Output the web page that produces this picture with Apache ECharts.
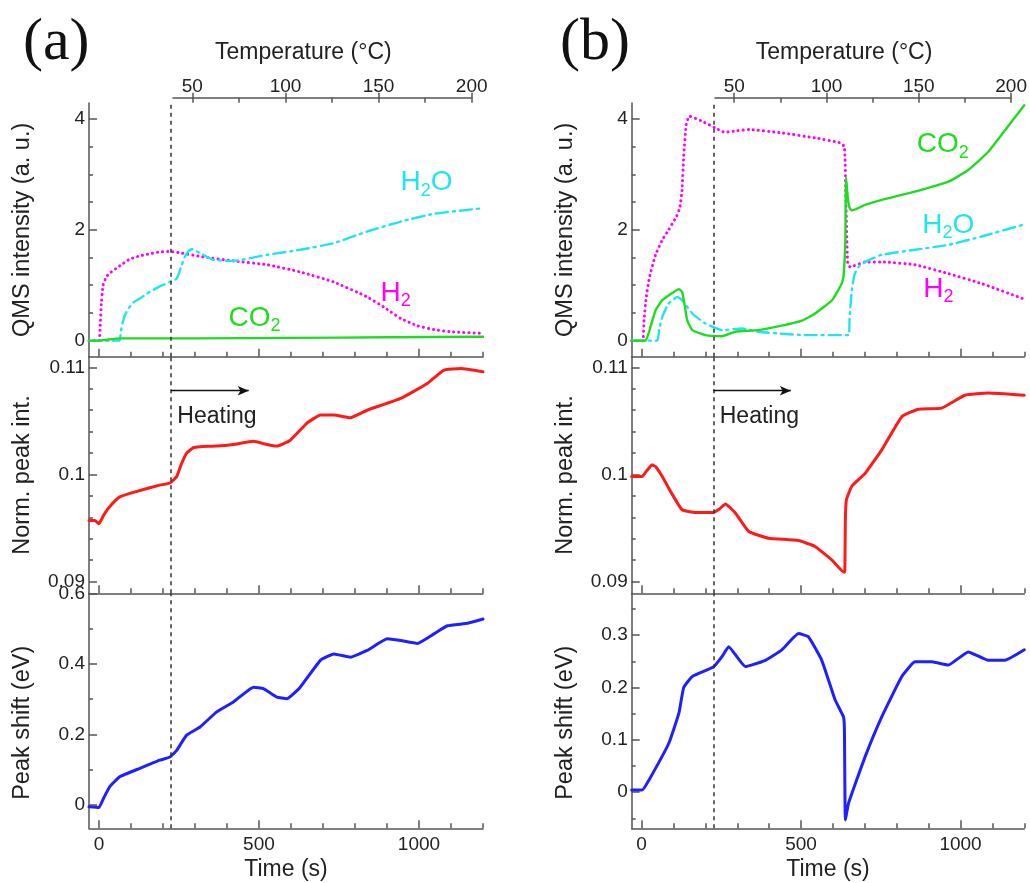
<!DOCTYPE html>
<html><head><meta charset="utf-8">
<script src="https://cdn.jsdelivr.net/npm/echarts@6/dist/echarts.min.js"></script>
<style>html,body{margin:0;padding:0;background:#fff}#c{width:1030px;height:883px}</style>
</head><body><div id="c"></div>
<script>
// ---------- tick / label values ----------
const TIME_TICKS = [0,100,200,300,400,500,600,700,800,900,1000,1100,1200];
const TIME_LABELS = [0,500,1000];
const TEMP_TICKS = [50,75,100,125,150,175,200];
const TEMP_LABELS = [50,100,150,200];
const QMS_TICKS = [0,0.5,1,1.5,2,2.5,3,3.5,4];
const QMS_LABELS = [0,2,4];
const NPI_TICKS = [0.09,0.092,0.094,0.096,0.098,0.1,0.102,0.104,0.106,0.108,0.11];
const NPI_LABELS = [0.09,0.1,0.11];
const PSA_TICKS = [0,0.1,0.2,0.3,0.4,0.5,0.6];
const PSA_LABELS = [0,0.2,0.4,0.6];
const PSB_TICKS = [-0.05,0,0.05,0.1,0.15,0.2,0.25,0.3,0.35];
const PSB_LABELS = [0,0.1,0.2,0.3];
const HEATING_START = 225;
const ARROW = [[225,0.10782],[468,0.10782]];

// ---------- panel (a) data [time s, value] ----------
const a_H2 = [[-31,0],[0,0],[4,0.25],[8,0.7],[13,1.0],[23,1.15],[34,1.22],[65,1.35],[96,1.47],[128,1.53],[160,1.57],[190,1.6],[222,1.61],[260,1.58],[316,1.52],[419,1.44],[525,1.37],[629,1.24],[733,1.06],[838,0.79],[889,0.61],[943,0.4],[995,0.27],[1046,0.2],[1100,0.16],[1200,0.13]];
const a_H2O = [[-31,0],[64,0],[68,0.15],[74,0.32],[82,0.47],[95,0.6],[110,0.7],[128,0.76],[150,0.85],[190,0.98],[222,1.06],[243,1.12],[256,1.32],[269,1.52],[283,1.63],[292,1.65],[316,1.58],[357,1.46],[420,1.44],[525,1.55],[629,1.64],[733,1.76],[838,1.97],[943,2.15],[1047,2.29],[1200,2.39]];
const a_CO2 = [[-31,0],[0,0],[30,0.02],[65,0.04],[300,0.04],[600,0.05],[900,0.06],[1200,0.07]];
const a_NPI = [[-31,0.0957],[-13,0.0957],[0,0.0954],[15,0.0962],[34,0.097],[65,0.0979],[128,0.0985],[190,0.099],[222,0.0992],[243,0.0998],[258,0.101],[274,0.102],[295,0.1025],[316,0.1026],[368,0.10265],[420,0.1028],[483,0.1031],[525,0.1028],[556,0.10265],[598,0.1032],[650,0.1048],[692,0.10555],[734,0.10555],[786,0.1053],[838,0.106],[943,0.1071],[1026,0.1085],[1078,0.10975],[1131,0.1099],[1200,0.1096]];
const a_PS = [[-31,-0.005],[0,-0.007],[15,0.02],[34,0.052],[65,0.08],[128,0.104],[190,0.127],[222,0.136],[243,0.155],[274,0.198],[316,0.221],[368,0.264],[420,0.292],[483,0.334],[514,0.33],[556,0.306],[587,0.301],[629,0.334],[692,0.41],[734,0.428],[786,0.419],[838,0.438],[901,0.471],[943,0.466],[995,0.458],[1047,0.485],[1089,0.508],[1152,0.515],[1200,0.527]];

// ---------- panel (b) data ----------
const b_H2 = [[-31,0],[3,0],[8,0.4],[15,0.8],[25,1.15],[44,1.55],[65,1.82],[85,2.0],[110,2.25],[120,2.4],[127,2.72],[132,3.32],[140,3.9],[150,4.05],[190,3.96],[231,3.84],[262,3.76],[300,3.79],[336,3.81],[440,3.75],[544,3.66],[623,3.57],[636,3.5],[640,2.72],[646,1.4],[654,1.33],[701,1.42],[753,1.42],[857,1.37],[962,1.21],[1066,1.03],[1200,0.75]];
const b_H2O = [[-31,0],[49,0],[55,0.2],[65,0.43],[85,0.67],[112,0.79],[127,0.73],[159,0.49],[200,0.31],[252,0.19],[315,0.22],[367,0.16],[450,0.12],[513,0.1],[649,0.1],[652,0.4],[659,0.91],[668,1.2],[680,1.33],[701,1.42],[753,1.55],[857,1.64],[962,1.73],[1066,1.88],[1200,2.1]];
const b_CO2 = [[-31,0],[12,0],[20,0.1],[28,0.25],[44,0.55],[65,0.73],[96,0.86],[117,0.93],[127,0.88],[136,0.61],[143,0.37],[159,0.19],[200,0.1],[252,0.08],[294,0.16],[367,0.19],[440,0.27],[503,0.36],[544,0.49],[597,0.73],[625,1.0],[633,1.15],[637,1.5],[639,1.82],[641,2.95],[647,2.55],[652,2.4],[659,2.35],[701,2.45],[753,2.54],[857,2.69],[962,2.87],[1024,3.08],[1087,3.41],[1149,3.87],[1200,4.25]];
const b_NPI = [[-31,0.0998],[2,0.0998],[15,0.1003],[33,0.1009],[45,0.1007],[65,0.0998],[95,0.0982],[127,0.0967],[169,0.09644],[225,0.09644],[245,0.0968],[263,0.09725],[294,0.0964],[336,0.09467],[398,0.09405],[492,0.09383],[544,0.09327],[597,0.092],[633,0.0909],[637,0.0909],[639,0.0958],[642,0.0976],[659,0.0989],[701,0.1001],[753,0.1023],[816,0.1054],[868,0.1061],[941,0.1062],[1014,0.1074],[1087,0.1076],[1200,0.1074]];
const b_PS = [[-31,0.004],[2,0.004],[23,0.023],[85,0.093],[117,0.151],[132,0.2],[159,0.221],[225,0.239],[252,0.259],[273,0.278],[325,0.24],[388,0.252],[440,0.272],[492,0.303],[523,0.297],[565,0.252],[607,0.176],[633,0.144],[636,0.119],[639,-0.053],[649,-0.021],[701,0.068],[753,0.144],[816,0.221],[857,0.249],[910,0.249],[962,0.243],[1024,0.268],[1087,0.252],[1139,0.252],[1200,0.272]];

// ---------- styling ----------
const FONT = 'Liberation Sans';
const AX = '#555';
const TXT = '#222';
const C_RED = '#ff1a1a', C_BLUE = '#1f1fff', C_MAG = '#ff00ff', C_CYAN = '#1ee5f0', C_GREEN = '#1fdc1f';
const X_MIN = -31, X_MAX = 1200;

const panels = [
  {left: 89, width: 394, tempLeft: 173, tempWidth: 298.7},
  {left: 631.7, width: 392.6, tempLeft: 715, tempWidth: 297.7}
];
const rows = [
  {top: 103, height: 253.7},
  {top: 356.7, height: 236.6},
  {top: 593.3, height: 235}
];

const grids = [], xAxes = [], yAxes = [], series = [];
const lineSt = {color: AX, width: 1.5};
const plain = v => String(v);

function addY(g, min, max, ticks, labels, name, namePad) {
  yAxes.push({
    type: 'value', gridIndex: g, min: min, max: max, position: 'left',
    axisLine: {show: true, onZero: false, lineStyle: lineSt},
    axisTick: {show: true, inside: true, length: 4, customValues: ticks, lineStyle: lineSt},
    axisLabel: {show: true, customValues: labels, formatter: plain, margin: 4, fontSize: 19, color: TXT, fontFamily: FONT},
    splitLine: {show: false},
    name: name, nameLocation: 'middle', nameGap: 54,
    nameTextStyle: {fontSize: 23.5, color: TXT, fontFamily: FONT, padding: namePad || 0}
  });
  yAxes.push({
    type: 'value', gridIndex: g, min: min, max: max, position: 'left',
    axisLine: {show: false, onZero: false},
    axisTick: {show: true, inside: true, length: 8, customValues: labels, lineStyle: lineSt},
    axisLabel: {show: false}, splitLine: {show: false}
  });
}
function addX(g, showLabels) {
  xAxes.push({
    type: 'value', gridIndex: g, min: X_MIN, max: X_MAX, position: 'bottom',
    axisLine: {show: true, onZero: false, lineStyle: lineSt},
    axisTick: {show: true, inside: true, length: 5, customValues: TIME_TICKS, lineStyle: lineSt},
    axisLabel: {show: showLabels, customValues: TIME_LABELS, formatter: plain, margin: 7, fontSize: 19, color: TXT, fontFamily: FONT},
    splitLine: {show: false},
    name: showLabels ? 'Time (s)' : '', nameLocation: 'middle', nameGap: 30,
    nameTextStyle: {fontSize: 23, color: TXT, fontFamily: FONT}
  });
  xAxes.push({
    type: 'value', gridIndex: g, min: X_MIN, max: X_MAX, position: 'bottom',
    axisLine: {show: false, onZero: false},
    axisTick: {show: true, inside: true, length: 8, customValues: TIME_LABELS, lineStyle: lineSt},
    axisLabel: {show: false}, splitLine: {show: false}
  });
}

const vline = {
  silent: true, symbol: ['none', 'none'], label: {show: false},
  lineStyle: {type: [4, 4], color: '#333', width: 1.5},
  data: [{xAxis: HEATING_START}]
};
function richLab(parts, color) {
  return {
    formatter: parts.map(p => '{' + p[0] + '|' + p[1] + '}').join(''),
    rich: {
      n: {fontSize: 28, color: color, fontFamily: FONT, lineHeight: 34, verticalAlign: 'middle'},
      s: {fontSize: 18, color: color, fontFamily: FONT, verticalAlign: 'bottom'}
    }
  };
}
function tag(coord, lab) {
  return {coord: coord, symbol: 'circle', symbolSize: 0,
    label: Object.assign({show: true, position: 'right', distance: 0}, lab)};
}
function lineSeries(g, data, color, width, type, smooth, extra) {
  return Object.assign({
    type: 'line', xAxisIndex: 2 * g, yAxisIndex: 2 * g, data: data,
    showSymbol: false, symbol: 'none', smooth: smooth,
    lineStyle: {color: color, width: width, type: type || 'solid', cap: 'round', join: 'round'},
    itemStyle: {color: color}, silent: true, animation: false, z: 3
  }, extra || {});
}

const qms = [
  {H2: a_H2, H2O: a_H2O, CO2: a_CO2, NPI: a_NPI, PS: a_PS, psMin: -0.066, psMax: 0.6, psT: PSA_TICKS, psL: PSA_LABELS,
   lab: {H2O: [942.6, 2.85], H2: [880, 0.86], CO2: [405, 0.41]}},
  {H2: b_H2, H2O: b_H2O, CO2: b_CO2, NPI: b_NPI, PS: b_PS, psMin: -0.069, psMax: 0.38, psT: PSB_TICKS, psL: PSB_LABELS,
   lab: {H2O: [880, 2.08], H2: [883, 0.93], CO2: [862.6, 3.54]}}
];

panels.forEach((p, pi) => {
  rows.forEach((r) => {
    grids.push({left: p.left, width: p.width, top: r.top, height: r.height, containLabel: false});
  });
  const g0 = pi * 3, d = qms[pi];
  addX(g0, false);
  addY(g0, -0.29, 4.29, QMS_TICKS, QMS_LABELS, 'QMS intensity (a. u.)');
  addX(g0 + 1, false);
  addY(g0 + 1, 0.0889, 0.111, NPI_TICKS, NPI_LABELS, 'Norm. peak int.');
  addX(g0 + 2, true);
  addY(g0 + 2, d.psMin, d.psMax, d.psT, d.psL, 'Peak shift (eV)', [0, 24, 0, 0]);

  series.push(lineSeries(g0, d.H2, C_MAG, 3, [0.1, 5], 0.15, {
    markLine: vline,
    markPoint: {silent: true, data: [tag(d.lab.H2, richLab([['n','H'],['s','2']], C_MAG))]}
  }));
  series.push(lineSeries(g0, d.H2O, C_CYAN, 2.4, [12, 5, 2, 5], 0.15, {
    markPoint: {silent: true, data: [tag(d.lab.H2O, richLab([['n','H'],['s','2'],['n','O']], C_CYAN))]}
  }));
  series.push(lineSeries(g0, d.CO2, C_GREEN, 2.4, 'solid', 0.15, {
    markPoint: {silent: true, data: [tag(d.lab.CO2, richLab([['n','CO'],['s','2']], C_GREEN))]}
  }));
  series.push(lineSeries(g0 + 1, d.NPI, C_RED, 3, 'solid', 0.12, {
    markLine: {
      silent: true, symbol: ['none', 'none'], label: {show: false},
      lineStyle: {type: [4, 4], color: '#333', width: 1.5},
      data: [
        {xAxis: HEATING_START},
        [{coord: ARROW[0], symbol: 'none', lineStyle: {type: 'solid', color: '#111', width: 1.3}},
         {coord: ARROW[1], symbol: 'arrow', symbolSize: [7, 11]}]
      ]
    },
    markPoint: {silent: true, data: [tag([245, 0.10537], {formatter: 'Heating', fontSize: 23, color: TXT, fontFamily: FONT})]}
  }));
  series.push(lineSeries(g0 + 2, d.PS, C_BLUE, 3, 'solid', 0.12, {markLine: vline}));
});

// temperature axes (top)
panels.forEach((p) => {
  const g = grids.length;
  grids.push({left: p.tempLeft, width: p.tempWidth, top: 97.7, height: 1});
  xAxes.push({
    type: 'value', gridIndex: g, min: 39.6, max: 200, position: 'top',
    axisLine: {show: true, onZero: false, lineStyle: lineSt},
    axisTick: {show: true, inside: true, length: 5, customValues: TEMP_TICKS, lineStyle: lineSt},
    axisLabel: {show: true, customValues: TEMP_LABELS, formatter: plain, margin: 1, fontSize: 19, color: TXT, fontFamily: FONT},
    splitLine: {show: false},
    name: 'Temperature (°C)', nameLocation: 'middle', nameGap: 34,
    nameTextStyle: {fontSize: 23, color: TXT, fontFamily: FONT, padding: [0, 38, 0, 0]}
  });
  xAxes.push({
    type: 'value', gridIndex: g, min: 39.6, max: 200, position: 'top',
    axisLine: {show: false, onZero: false},
    axisTick: {show: true, inside: false, length: 5, customValues: TEMP_LABELS, lineStyle: lineSt},
    axisLabel: {show: false}, splitLine: {show: false}
  });
  yAxes.push({type: 'value', gridIndex: g, show: false});
});

const chart = echarts.init(document.getElementById('c'), null, {renderer: 'canvas'});
chart.setOption({
  backgroundColor: '#fff',
  animation: false,
  title: [
    {text: '(a)', left: 18, top: 8, textStyle: {fontFamily: 'Liberation Serif', fontSize: 60, fontWeight: 'normal', color: '#111'}},
    {text: '(b)', left: 555, top: 8, textStyle: {fontFamily: 'Liberation Serif', fontSize: 60, fontWeight: 'normal', color: '#111'}}
  ],
  grid: grids, xAxis: xAxes, yAxis: yAxes, series: series
});
</script></body></html>
